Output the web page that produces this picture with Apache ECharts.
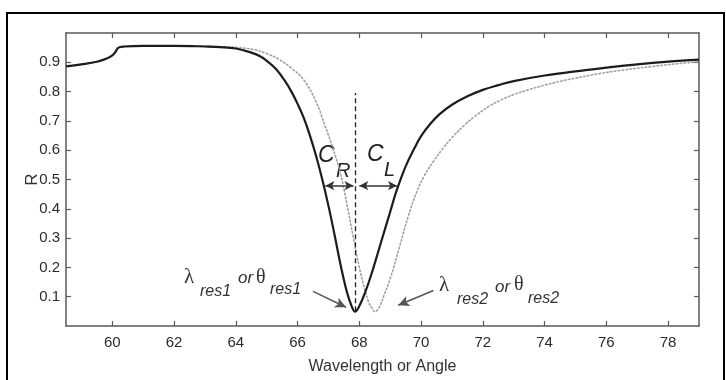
<!DOCTYPE html>
<html>
<head>
<meta charset="utf-8">
<script src="https://cdn.jsdelivr.net/npm/echarts@6/dist/echarts.min.js"></script>
<style>
  html, body { margin: 0; padding: 0; background: #fff; }
  #chart { width: 726px; height: 380px; }
</style>
</head>
<body>
<div id="chart"></div>
<script>
// ---- data ----
const xTicks = [60, 62, 64, 66, 68, 70, 72, 74, 76, 78];
const yTicks = [0.1, 0.2, 0.3, 0.4, 0.5, 0.6, 0.7, 0.8, 0.9];

const solidX = [58.5, 59.0, 59.5, 59.8, 60.0, 60.1, 60.2, 60.4, 61.0, 62.0, 63.0, 63.5, 64.0, 64.5, 64.8, 65.0, 65.3, 65.6, 65.8, 66.0, 66.2, 66.4, 66.6, 66.8, 67.0, 67.2, 67.4, 67.6, 67.75, 67.86, 68.0, 68.2, 68.4, 68.7, 69.0, 69.2, 69.5, 69.8, 70.0, 70.3, 70.6, 71.0, 71.5, 72.0, 72.5, 73.0, 74.0, 75.0, 76.0, 77.0, 78.0, 79.0];
const solidR = [0.886, 0.893, 0.902, 0.912, 0.924, 0.935, 0.950, 0.954, 0.956, 0.956, 0.954, 0.952, 0.947, 0.933, 0.920, 0.905, 0.877, 0.835, 0.800, 0.758, 0.710, 0.650, 0.580, 0.500, 0.410, 0.310, 0.205, 0.115, 0.068, 0.049, 0.068, 0.118, 0.180, 0.285, 0.390, 0.460, 0.545, 0.610, 0.648, 0.690, 0.723, 0.755, 0.784, 0.806, 0.822, 0.836, 0.855, 0.869, 0.882, 0.893, 0.902, 0.909];

const dottedX = [58.5, 59.0, 59.5, 59.8, 60.0, 60.1, 60.2, 60.4, 61.0, 62.0, 63.0, 63.5, 64.0, 64.6, 65.0, 65.4, 65.8, 66.2, 66.6, 66.9, 67.15, 67.4, 67.6, 67.8, 68.0, 68.15, 68.3, 68.4, 68.51, 68.65, 68.8, 69.0, 69.3, 69.6, 69.85, 70.1, 70.4, 70.7, 71.0, 71.4, 71.7, 72.2, 72.6, 73.0, 73.5, 74.0, 74.5, 75.0, 75.8, 76.5, 77.5, 78.3, 79.0];
const dottedR = [0.886, 0.893, 0.902, 0.912, 0.924, 0.935, 0.950, 0.954, 0.956, 0.956, 0.955, 0.953, 0.951, 0.943, 0.930, 0.910, 0.880, 0.840, 0.765, 0.680, 0.605, 0.515, 0.415, 0.305, 0.200, 0.135, 0.082, 0.062, 0.049, 0.065, 0.105, 0.162, 0.270, 0.380, 0.455, 0.512, 0.562, 0.605, 0.643, 0.685, 0.712, 0.750, 0.772, 0.790, 0.807, 0.822, 0.835, 0.846, 0.862, 0.873, 0.886, 0.895, 0.902];

// annotation anchors (data units)
const dashX = 67.86;
const dashR = [0.05, 0.795];
const arrowLevel = 0.479;
const crSpan = [66.9, 67.81];
const clSpan = [68.0, 69.22];
const pointer1 = [[66.5, 0.118], [67.57, 0.064]];
const pointer2 = [[70.4, 0.121], [69.26, 0.071]];

// ---- chart ----
const chart = echarts.init(document.getElementById('chart'), null, { renderer: 'canvas' });

const axisColor = '#5a5a5a';
const labelFont = 'Liberation Sans, Arial, sans-serif';
const serif = 'Liberation Serif, DejaVu Serif, serif';

function pairs(xs, ys) { return xs.map((x, i) => [x, ys[i]]); }

const commonX = {
  type: 'value', min: 58.5, max: 79,
  splitLine: { show: false },
  axisLine: { show: true, onZero: false, lineStyle: { color: axisColor, width: 1.5 } },
  axisTick: { show: true, inside: true, length: 5, customValues: xTicks, lineStyle: { color: axisColor, width: 1.2 } }
};
const commonY = {
  type: 'value', min: 0, max: 1,
  splitLine: { show: false },
  axisLine: { show: true, onZero: false, lineStyle: { color: axisColor, width: 1.5 } },
  axisTick: { show: true, inside: true, length: 5, customValues: yTicks, lineStyle: { color: axisColor, width: 1.2 } }
};

const arrowStyle = { color: '#333', width: 1.5, type: 'solid' };
const ptrStyle = { color: '#555', width: 1.5, type: 'solid' };

const option = {
  animation: false,
  backgroundColor: '#fff',
  grid: { left: 66, top: 33, right: 27, bottom: 54, containLabel: false },
  xAxis: [
    Object.assign({}, commonX, {
      position: 'bottom',
      axisLabel: { show: true, customValues: xTicks, color: '#2a2a2a', fontSize: 15, fontFamily: labelFont, margin: 9 },
      name: 'Wavelength or Angle', nameLocation: 'middle', nameGap: 33, nameMoveOverlap: false,
      nameTextStyle: { color: '#333', fontSize: 16, fontFamily: labelFont }
    }),
    Object.assign({}, commonX, { position: 'top', axisLabel: { show: false } })
  ],
  yAxis: [
    Object.assign({}, commonY, {
      position: 'left',
      axisLabel: { show: true, customValues: yTicks, color: '#2a2a2a', fontSize: 15, fontFamily: labelFont, margin: 6,
        formatter: v => Number(v).toFixed(1) },
      name: 'R', nameLocation: 'middle', nameGap: 25, nameMoveOverlap: false,
      nameTextStyle: { color: '#333', fontSize: 17, fontFamily: labelFont }
    }),
    Object.assign({}, commonY, { position: 'right', axisLabel: { show: false } })
  ],
  series: [
    {
      type: 'line', name: 'shifted', xAxisIndex: 0, yAxisIndex: 0,
      data: pairs(dottedX, dottedR), showSymbol: false, smooth: 0.4,
      lineStyle: { color: '#a0a0a0', width: 1.6, type: [1.5, 2.4], cap: 'round' },
      z: 2
    },
    {
      type: 'line', name: 'reference', xAxisIndex: 0, yAxisIndex: 0,
      data: pairs(solidX, solidR), showSymbol: false, smooth: 0.4,
      lineStyle: { color: '#1c1c1c', width: 2.2 },
      z: 3,
      markLine: {
        silent: true, animation: false,
        label: { show: false },
        emphasis: { disabled: true },
        data: [
          [ { coord: [dashX, dashR[0]], symbol: 'none', lineStyle: { color: '#222', width: 1.3, type: [5, 3] } },
            { coord: [dashX, dashR[1]], symbol: 'none' } ],
          [ { coord: [crSpan[0], arrowLevel], symbol: 'arrow', symbolSize: [7, 9], lineStyle: arrowStyle },
            { coord: [crSpan[1], arrowLevel], symbol: 'arrow', symbolSize: [7, 9] } ],
          [ { coord: [clSpan[0], arrowLevel], symbol: 'arrow', symbolSize: [7, 9], lineStyle: arrowStyle },
            { coord: [clSpan[1], arrowLevel], symbol: 'arrow', symbolSize: [7, 9] } ],
          [ { coord: pointer1[0], symbol: 'none', lineStyle: ptrStyle },
            { coord: pointer1[1], symbol: 'arrow', symbolSize: [8, 11] } ],
          [ { coord: pointer2[0], symbol: 'none', lineStyle: ptrStyle },
            { coord: pointer2[1], symbol: 'arrow', symbolSize: [8, 11] } ]
        ]
      }
    }
  ],
  graphic: [
    { type: 'rect', shape: { x: 7, y: 13, width: 717, height: 400 }, style: { fill: 'none', stroke: '#000', lineWidth: 2 }, silent: true, z: 0 },
    // C_R and C_L
    { type: 'text', x: 318, y: 144, style: { text: 'C', font: 'italic 23px ' + labelFont, fill: '#222' } },
    { type: 'text', x: 336, y: 161, style: { text: 'R', font: 'italic 20px ' + labelFont, fill: '#222' } },
    { type: 'text', x: 367, y: 143, style: { text: 'C', font: 'italic 23px ' + labelFont, fill: '#222' } },
    { type: 'text', x: 384, y: 160, style: { text: 'L', font: 'italic 20px ' + labelFont, fill: '#222' } },
    // λres1 or θres1
    { type: 'text', x: 184, y: 267, style: { text: 'λ', font: '21px ' + serif, fill: '#333' } },
    { type: 'text', x: 200, y: 284, style: { text: 'res1', font: 'italic 16px ' + labelFont, fill: '#333' } },
    { type: 'text', x: 238, y: 270, style: { text: 'or', font: 'italic 17px ' + labelFont, fill: '#333' } },
    { type: 'text', x: 256, y: 268, style: { text: 'θ', font: '20px ' + serif, fill: '#333' } },
    { type: 'text', x: 270, y: 282, style: { text: 'res1', font: 'italic 16px ' + labelFont, fill: '#333' } },
    // λres2 or θres2
    { type: 'text', x: 439, y: 275, style: { text: 'λ', font: '21px ' + serif, fill: '#333' } },
    { type: 'text', x: 457, y: 292, style: { text: 'res2', font: 'italic 16px ' + labelFont, fill: '#333' } },
    { type: 'text', x: 495, y: 279, style: { text: 'or', font: 'italic 17px ' + labelFont, fill: '#333' } },
    { type: 'text', x: 514, y: 275, style: { text: 'θ', font: '20px ' + serif, fill: '#333' } },
    { type: 'text', x: 528, y: 291, style: { text: 'res2', font: 'italic 16px ' + labelFont, fill: '#333' } }
  ]
};

chart.setOption(option);
</script>
</body>
</html>
